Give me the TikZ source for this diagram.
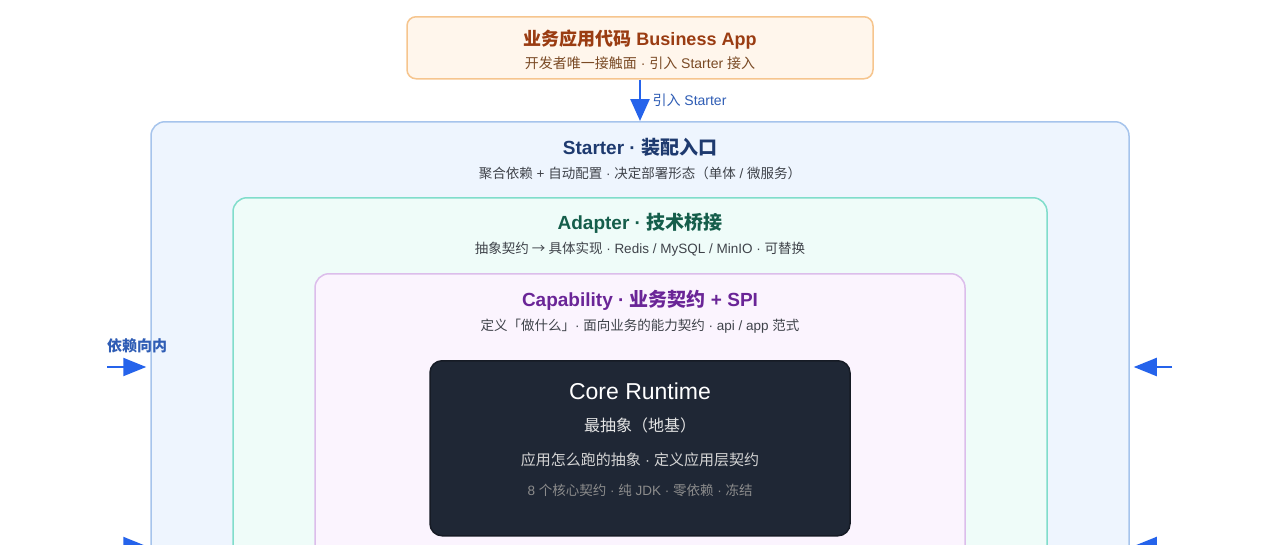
\documentclass[tikz,border=0pt]{standalone}
\usepackage{fontspec}
\setmainfont{Liberation Sans}
\newfontfamily\cjk{Noto Sans CJK SC}
\usetikzlibrary{arrows.meta,positioning}
\newcommand{\zh}[1]{{\cjk #1}}
\newcommand{\fs}[1]{\fontsize{#1}{#1}\selectfont}
\definecolor{appfill}{HTML}{FFF6EC}
\definecolor{appline}{HTML}{F6C58E}
\definecolor{apptext}{HTML}{9A3C12}
\definecolor{appsub}{HTML}{7A4A25}
\definecolor{startfill}{HTML}{EEF5FE}
\definecolor{startline}{HTML}{A6C4EC}
\definecolor{starttext}{HTML}{1E3A6F}
\definecolor{adaptfill}{HTML}{EFFCF9}
\definecolor{adaptline}{HTML}{80DDCB}
\definecolor{adapttext}{HTML}{155E4B}
\definecolor{capfill}{HTML}{FBF4FE}
\definecolor{capline}{HTML}{DCBDEB}
\definecolor{captext}{HTML}{6A2597}
\definecolor{corefill}{HTML}{1F2735}
\definecolor{subgrey}{HTML}{3F434A}
\definecolor{flowblue}{HTML}{2563EB}
\definecolor{labelblue}{HTML}{2F5DB5}

\begin{document}
\begin{tikzpicture}[x=1pt,y=-1pt,
  layer/.style={draw,line width=1.5pt,rounded corners=14pt,anchor=north,inner sep=0pt},
  title/.style={font=\fs{19}\bfseries},
  subtitle/.style={font=\fs{13.5},text=subgrey},
  flow/.style={draw=flowblue,line width=2.5pt,-{Triangle[length=22pt,width=19pt]}},
  inward/.style={draw=flowblue,line width=2pt,shorten >=4pt,-{Triangle[length=23pt,width=18pt]}}]
\useasboundingbox (0,0) rectangle (1280,544);
\clip (0,0) rectangle (1280,544);
\fill[white] (0,0) rectangle (1280,544);

% nested layers
\node[layer,draw=startline,fill=startfill,minimum width=978pt,minimum height=480pt] (starter) at (640,121) {};
\node[layer,draw=adaptline,fill=adaptfill,minimum width=814pt,minimum height=420pt] (adapter) at (640,197) {};
\node[layer,draw=capline,fill=capfill,minimum width=650pt,minimum height=360pt] (capability) at (640,273) {};
\node[layer,draw=corefill!70!black,fill=corefill,rounded corners=12pt,minimum width=420pt,minimum height=175pt] (core) at (640,360) {};

% business app
\node[layer,draw=appline,fill=appfill,rounded corners=9pt,minimum width=466pt,minimum height=62pt] (app) at (640,16) {};
\node[font=\fs{18}\bfseries,text=apptext] (apptitle) at (640,40) {\zh{业务应用代码} Business App};
\node[font=\fs{14},text=appsub] (appsub) at (640,63) {\zh{开发者唯一接触面} · \zh{引入} Starter \zh{接入}};
\draw[flow] (app.south) -- (starter.north);
\node[anchor=west,font=\fs{14},text=labelblue] (uselabel) at (649,100) {\zh{引入} Starter};

\node[title,text=starttext] (starttitle) at (640,147) {Starter · \zh{装配入口}};
\node[subtitle] (startsub) at (640,173) {\zh{聚合依赖} + \zh{自动配置} · \zh{决定部署形态（单体} / \zh{微服务）}};

\node[title,text=adapttext] (adapttitle) at (640,223) {Adapter · \zh{技术桥接}};
\node[subtitle] (adaptsub) at (640,249) {\zh{抽象契约 → 具体实现} · Redis / MySQL / MinIO · \zh{可替换}};

\node[title,text=captext] (captitle) at (640,300) {Capability · \zh{业务契约} + SPI};
\node[subtitle] (capsub) at (640,326) {\zh{定义「做什么」}· \zh{面向业务的能力契约} · api / app \zh{范式}};

% core
\node[font=\fs{23},text=white] (coretitle) at (640,391) {Core Runtime};
\node[font=\fs{16},text=black!10] (corewhat) at (640,425) {\zh{最抽象（地基）}};
\node[font=\fs{15},text=black!17] (corehow) at (640,460) {\zh{应用怎么跑的抽象} · \zh{定义应用层契约}};
\node[font=\fs{13.5},text=black!45] (corenote) at (640,490) {8 \zh{个核心契约} · \zh{纯} JDK · \zh{零依赖} · \zh{冻结}};

% dependencies point inward
\node[font=\fs{15}\bfseries,text=labelblue] (inlabel) at (137,346) {\zh{依赖向内}};
\coordinate (inL1) at (107,367);
\coordinate (inR1) at (1172,367);
\coordinate (inL2) at (107,546);
\coordinate (inR2) at (1172,546);
\draw[inward] (inL1) -- (starter.west |- inL1);
\draw[inward] (inR1) -- (starter.east |- inR1);
\draw[inward] (inL2) -- (starter.west |- inL2);
\draw[inward] (inR2) -- (starter.east |- inR2);
\end{tikzpicture}
\end{document}
